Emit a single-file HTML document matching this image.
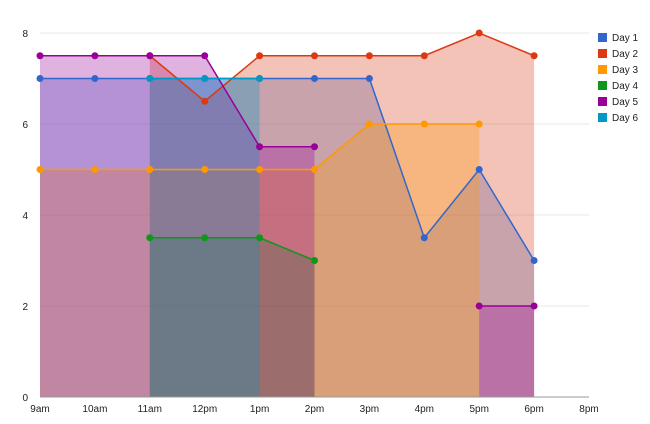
<!DOCTYPE html>
<html><head><meta charset="utf-8"><style>
body{margin:0;background:#fff;font-family:"Liberation Sans",Arial,sans-serif;}
svg text{font-family:"Liberation Sans",Arial,sans-serif;font-size:10px;fill:#222;}
</style></head><body>
<svg id="chart" width="650" height="419" viewBox="0 0 650 419"></svg>
<script>
const categories=["9am","10am","11am","12pm","1pm","2pm","3pm","4pm","5pm","6pm","8pm"];
const seriesNames=["Day 1","Day 2","Day 3","Day 4","Day 5","Day 6"];
const day1=[7,7,7,7,7,7,7,3.5,5,3,null];
const day2=[null,null,7.5,6.5,7.5,7.5,7.5,7.5,8,7.5,null];
const day3=[5,5,5,5,5,5,6,6,6,null,null];
const day4=[null,null,3.5,3.5,3.5,3,null,null,null,null,null];
const day5=[7.5,7.5,7.5,7.5,5.5,5.5,null,null,2,2,null];
const day6=[null,null,7,7,7,null,null,null,null,null,null];
const yTicks=[0,2,4,6,8];
const colors=["#3366cc","#dc3912","#ff9900","#109618","#990099","#0099c6"];
const series=[day1,day2,day3,day4,day5,day6];
const svg=document.getElementById('chart');const NS="http://www.w3.org/2000/svg";
const x0=40,x1=589,yb=397,yt=33;
const xs=i=>x0+i*(x1-x0)/(categories.length-1);
const ys=v=>yb-v*(yb-yt)/8;
function mk(t,a,p){const e=document.createElementNS(NS,t);for(const k in a)e.setAttribute(k,a[k]);(p||svg).appendChild(e);return e;}
yTicks.forEach(v=>{
 if(v>0){const g=mk('line',{x1:x0,x2:x1,y1:ys(v),y2:ys(v),stroke:'#e8e8e8'});
 
 }
 const t=mk('text',{x:28,y:ys(v)+4,'text-anchor':'end'});t.textContent=v;
 
 
});
categories.forEach((c,i)=>{const t=mk('text',{x:xs(i),y:412,'text-anchor':'middle'});t.textContent=c;
 
 });
function segsOf(d){let segs=[],cur=[];d.forEach((v,i)=>{if(v==null){if(cur.length)segs.push(cur);cur=[];}else cur.push(i);});if(cur.length)segs.push(cur);return segs;}
const gA=mk('g',{});
const gL=mk('g',{});
const gP=mk('g',{});
series.forEach((d,s)=>{
 segsOf(d).forEach(sg=>{
  let pts=sg.map(i=>xs(i)+','+ys(d[i])).join(' ');
  const area=mk('polygon',{points:pts+' '+xs(sg[sg.length-1])+','+yb+' '+xs(sg[0])+','+yb,fill:colors[s],'fill-opacity':0.3},gA);
  
  
  const ln=mk('polyline',{points:pts,fill:'none',stroke:colors[s],'stroke-width':1.5},gL);
  
  
 });
 d.forEach((v,i)=>{if(v==null)return;const c=mk('circle',{cx:xs(i),cy:ys(v),r:3.5,fill:colors[s]},gP);
  
  });
});
const ax=mk('line',{x1:x0,x2:x1,y1:yb,y2:yb,stroke:'#999'});


seriesNames.forEach((n,i)=>{const g=mk('g',{});
 
 
 mk('rect',{x:598,y:33+i*16,width:9,height:9,fill:colors[i]},g);
 const t=mk('text',{x:612,y:41+i*16},g);t.textContent=n;});
</script>
</body></html>
